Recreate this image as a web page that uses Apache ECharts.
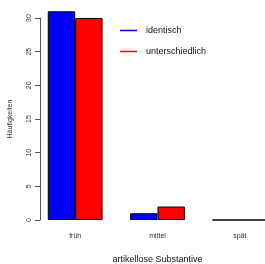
<!DOCTYPE html>
<html>
<head>
<meta charset="utf-8">
<script src="https://cdn.jsdelivr.net/npm/echarts@6/dist/echarts.min.js"></script>
<style>
html,body{margin:0;padding:0;background:#fff;}
#chart{width:265px;height:264px;}
</style>
</head>
<body>
<div id="chart"></div>
<script>
var categories = ['früh', 'mittel', 'spät'];
var identisch = [31, 1, 0];
var unterschiedlich = [30, 2, 0];
var yTicks = [0, 5, 10, 15, 20, 25, 30];

var myCharts = echarts.init(document.getElementById('chart'), null, {renderer: 'canvas'});

var fontFam = 'Liberation Sans, Arial, sans-serif';

var option = {
    backgroundColor: '#fff',
    animation: false,
    grid: {left: 34, width: 247, top: 18, bottom: 44, outerBoundsMode: 'none', containLabel: false},
    legend: {
        orient: 'vertical',
        left: 115,
        top: 21,
        itemGap: 12,
        itemWidth: 17,
        itemHeight: 1.5,
        icon: 'rect',
        itemStyle: {borderWidth: 0},
        textStyle: {fontFamily: fontFam, fontSize: 9, color: '#111', padding: [0, 0, 0, 4]},
        data: ['identisch', 'unterschiedlich']
    },
    xAxis: {
        type: 'category',
        data: categories,
        axisLine: {show: false},
        axisTick: {show: false},
        axisLabel: {fontFamily: fontFam, fontSize: 7, color: '#333', margin: 13},
        name: 'artikellose Substantive',
        nameLocation: 'middle',
        nameGap: 35,
        nameTextStyle: {fontFamily: fontFam, fontSize: 9, color: '#111'}
    },
    yAxis: {
        type: 'value',
        min: yTicks[0],
        max: yTicks[yTicks.length - 1],
        interval: 5,
        offset: -6,
        splitLine: {show: false},
        axisLine: {show: true, lineStyle: {color: '#555', width: 1}},
        axisTick: {show: true, length: 5, lineStyle: {color: '#555'}},
        axisLabel: {fontFamily: fontFam, fontSize: 7, color: '#333', rotate: 90, margin: 7},
        name: 'Häufigkeiten',
        nameLocation: 'middle',
        nameRotate: 90,
        nameGap: 26,
        nameTextStyle: {fontFamily: fontFam, fontSize: 7, color: '#333'}
    },
    series: [
        {
            name: 'identisch',
            type: 'bar',
            data: identisch,
            barWidth: 27.4,
            barGap: '0%',
            clip: false,
            itemStyle: {color: '#0000ff', borderColor: '#000', borderWidth: 1}
        },
        {
            name: 'unterschiedlich',
            type: 'bar',
            data: unterschiedlich,
            barWidth: 27.4,
            barGap: '0%',
            clip: false,
            itemStyle: {color: '#ff0000', borderColor: '#000', borderWidth: 1}
        }
    ]
};

myCharts.setOption(option);
</script>
</body>
</html>
